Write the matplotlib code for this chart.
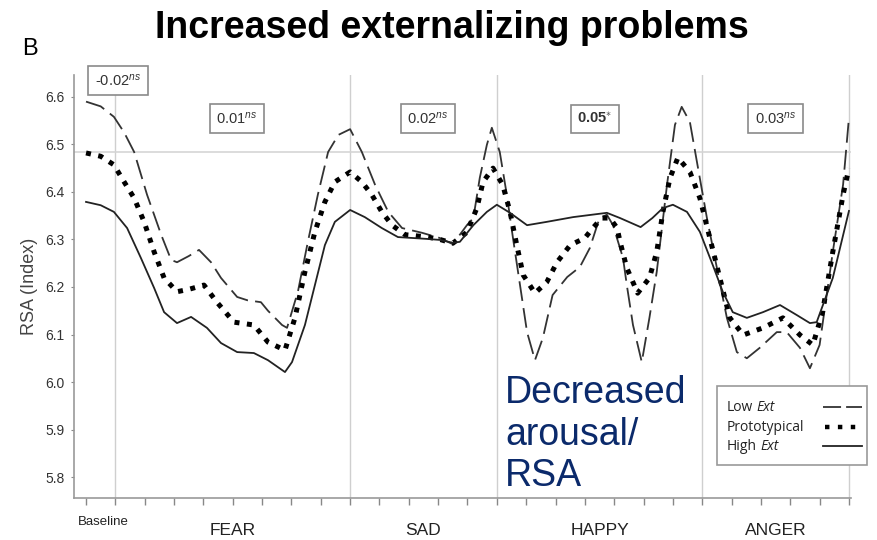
import matplotlib
matplotlib.use('Agg')
import matplotlib.pyplot as plt
from matplotlib.lines import Line2D
from matplotlib.patches import Rectangle

plt.rcParams['font.family'] = ['Liberation Sans', 'DejaVu Sans']
plt.rcParams['mathtext.fontset'] = 'custom'
plt.rcParams['mathtext.rm'] = 'Liberation Sans'
plt.rcParams['mathtext.it'] = 'Liberation Sans:italic'
plt.rcParams['mathtext.bf'] = 'Liberation Sans:bold'

# Low Ext (dashed) - time index vs RSA
low_x = [0, 0.5, 0.95, 1.3, 1.64, 2.08, 2.56, 2.9, 3.1, 3.5, 3.85, 4.26, 4.6, 5.15, 5.5, 5.96,
         6.2, 6.68, 6.85, 7.22, 7.56, 7.9, 8.25, 8.6, 9.0, 9.4, 9.85, 10.3, 10.77, 11.45, 12.06,
         12.5, 12.98, 13.2, 13.42, 13.66, 13.83, 14.1, 14.34, 14.55, 14.79, 15.03, 15.3, 15.57,
         15.9, 16.4, 16.83, 17.17, 17.5, 17.75, 17.96, 18.3, 18.43, 18.64, 18.94, 19.2, 19.45,
         19.8, 20.07, 20.3, 20.58, 20.82, 21.16, 21.5, 21.84, 22.18, 22.52, 22.96, 23.54, 23.88,
         24.33, 24.67, 25.0, 25.45, 25.8, 26.0]
low_y = [6.59, 6.58, 6.558, 6.525, 6.484, 6.394, 6.31, 6.257, 6.252, 6.265, 6.278, 6.252, 6.219,
         6.179, 6.172, 6.168, 6.15, 6.12, 6.114, 6.19, 6.295, 6.394, 6.484, 6.52, 6.532, 6.484,
         6.415, 6.358, 6.324, 6.314, 6.303, 6.29, 6.33, 6.345, 6.43, 6.499, 6.535, 6.484, 6.394,
         6.303, 6.204, 6.105, 6.046, 6.093, 6.183, 6.221, 6.242, 6.282, 6.345, 6.352, 6.33,
         6.261, 6.204, 6.12, 6.042, 6.135, 6.232, 6.415, 6.541, 6.579, 6.547, 6.463, 6.345,
         6.24, 6.135, 6.063, 6.05, 6.072, 6.105, 6.105, 6.072, 6.029, 6.078, 6.274, 6.415, 6.556]

# Prototypical (dotted)
proto_x = [0, 0.5, 0.95, 1.3, 1.64, 1.98, 2.32, 2.66, 3.1, 3.5, 4.02, 4.46, 5.04, 5.72, 6.2, 6.78,
           7.12, 7.46, 7.8, 8.14, 8.48, 9.0, 9.4, 9.74, 10.08, 10.43, 10.87, 11.65, 12.06, 12.5,
           12.98, 13.32, 13.53, 13.87, 14.2, 14.45, 14.68, 14.9, 15.3, 15.7, 16.05, 16.5, 17.0,
           17.27, 17.58, 17.85, 18.1, 18.2, 18.43, 18.8, 19.2, 19.45, 19.66, 19.9, 20.17, 20.58,
           20.92, 21.26, 21.6, 21.94, 22.4, 23.07, 23.75, 24.33, 24.77, 25.1, 25.45, 25.8, 26.0]
proto_y = [6.482, 6.475, 6.457, 6.421, 6.387, 6.337, 6.274, 6.219, 6.19, 6.195, 6.204, 6.168,
           6.126, 6.12, 6.084, 6.067, 6.135, 6.232, 6.316, 6.379, 6.421, 6.442, 6.421, 6.394,
           6.358, 6.33, 6.31, 6.305, 6.3, 6.292, 6.315, 6.366, 6.421, 6.45, 6.415, 6.358, 6.288,
           6.225, 6.187, 6.21, 6.252, 6.288, 6.303, 6.324, 6.345, 6.345, 6.324, 6.295, 6.24,
           6.187, 6.219, 6.274, 6.358, 6.429, 6.472, 6.442, 6.387, 6.303, 6.219, 6.135, 6.099,
           6.114, 6.135, 6.099, 6.078, 6.147, 6.274, 6.394, 6.45]

# High Ext (solid)
high_x = [0, 0.5, 0.95, 1.4, 1.87, 2.32, 2.66, 3.1, 3.58, 4.12, 4.6, 5.15, 5.72, 6.2, 6.78, 7.02,
          7.46, 7.8, 8.14, 8.48, 9.0, 9.5, 10.08, 10.63, 11.65, 12.06, 12.5, 12.74, 13.2, 13.66,
          14.0, 14.45, 15.03, 15.7, 16.6, 17.75, 18.2, 18.9, 19.3, 19.66, 20.0, 20.48, 20.92,
          21.36, 21.7, 22.04, 22.52, 23.07, 23.65, 24.22, 24.67, 24.9, 25.45, 26.0]
high_y = [6.379, 6.372, 6.358, 6.324, 6.261, 6.198, 6.147, 6.124, 6.137, 6.114, 6.082, 6.063,
          6.061, 6.046, 6.021, 6.042, 6.12, 6.204, 6.288, 6.337, 6.362, 6.347, 6.324, 6.305,
          6.301, 6.299, 6.293, 6.295, 6.33, 6.358, 6.373, 6.356, 6.33, 6.337, 6.347, 6.356,
          6.345, 6.326, 6.345, 6.366, 6.373, 6.358, 6.316, 6.246, 6.19, 6.147, 6.135, 6.147,
          6.162, 6.141, 6.124, 6.126, 6.219, 6.36]

segment_edges = [1, 9, 14, 21, 26]
segment_names = ['FEAR', 'SAD', 'HAPPY', 'ANGER']
segment_centers = [5, 11.5, 17.5, 23.5]
effects = [r'-0.02$^{\mathit{ns}}$', r'0.01$^{\mathit{ns}}$', r'0.02$^{\mathit{ns}}$',
           r'$\mathbf{0.05}^{\ast}$', r'0.03$^{\mathit{ns}}$']
effect_x = [1.09, 5.14, 11.65, 17.34, 23.5]
effect_y = [6.634, 6.554, 6.554, 6.554, 6.554]
ref_level = 6.485

W, H = 878, 540
fig = plt.figure(figsize=(W / 100, H / 100), dpi=100)
ax = fig.add_axes([74 / W, 42 / H, 777 / W, 423 / H])

# reference lines
for xe in segment_edges:
    ax.axvline(xe, color='#cfcfcf', lw=1, zorder=0)
ax.plot([-0.41, 26.07], [ref_level, ref_level], color='#d5d5d5', lw=1.2, zorder=0)

low_style = dict(color='#333333', lw=1.3, linestyle=(0, (11, 4)))
proto_style = dict(color='black', lw=3.6, linestyle=(0, (1, 1.5)))
high_style = dict(color='#222222', lw=1.3)

ax.plot(low_x, low_y, **low_style)
ax.plot(proto_x, proto_y, **proto_style)
ax.plot(high_x, high_y, **high_style)

ax.set_xlim(-0.41, 26.07)
ax.set_ylim(5.756, 6.646)
ax.set_xticks(range(0, 27))
ax.set_xticklabels([])
ax.set_yticks([5.8, 5.9, 6.0, 6.1, 6.2, 6.3, 6.4, 6.5, 6.6])
ax.set_yticklabels(['5.8', '5.9', '6.0', '6.1', '6.2', '6.3', '6.4', '6.5', '6.6'])
ax.tick_params(axis='x', length=5, color='#888888', width=1)
ax.tick_params(axis='y', length=2, color='#888888', labelsize=10, labelcolor='#333333', pad=5)
for side in ['top', 'right']:
    ax.spines[side].set_visible(False)
for side in ['left', 'bottom']:
    ax.spines[side].set_color('#999999')
    ax.spines[side].set_linewidth(1.2)

ax.set_ylabel('RSA (Index)', fontsize=13, color='#444444', labelpad=5)

# category labels under the axis
ax.text(0.58, 5.705, 'Baseline', fontsize=9.5, color='#222222', ha='center', va='center')
for xc, name in zip(segment_centers, segment_names):
    ax.text(xc, 5.678, name, fontsize=12.5, color='#222222', ha='center', va='baseline')

# effect boxes
for xe, ye, lab in zip(effect_x, effect_y, effects):
    ax.text(xe, ye, lab, fontsize=10.5, color='#333333', ha='center', va='center',
            bbox=dict(boxstyle='square,pad=0.45', fc='white', ec='#8a8a8a', lw=1.2))

# legend drawn by hand (labels left, samples right)
fig.add_artist(Rectangle((717 / W, 1 - 465 / H), 150 / W, 79 / H, transform=fig.transFigure,
                         fc='white', ec='#999999', lw=1.2))
renderer = fig.canvas.get_renderer()
rows = [('Low', 'Ext', 411, low_style, (0, (10, 2.8)), 823, 862),
        ('Prototypical', '', 431, proto_style, (0, (1, 1.9)), 825, 856),
        ('High', 'Ext', 450, high_style, None, 823, 862)]
for plain, ital, yb, style, dash, x0, x1 in rows:
    t = fig.text(727 / W, 1 - yb / H, plain, fontsize=10, family='Open Sans',
                 color='#222222', va='baseline')
    if ital:
        bb = t.get_window_extent(renderer=renderer)
        fig.text((bb.x1 + 3.5) / W, 1 - yb / H, ital, fontsize=10, family='Open Sans',
                 style='italic', color='#222222', va='baseline')
    ys = 1 - (yb - 4) / H
    s = dict(style)
    if dash is not None:
        s['linestyle'] = dash
    if s['lw'] > 3:
        s['lw'] = 3.2
    fig.add_artist(Line2D([x0 / W, x1 / W], [ys, ys], transform=fig.transFigure, **s))

fig.text(452 / W, 1 - 28 / H, 'Increased externalizing problems', fontsize=27,
         fontweight='bold', ha='center', va='center', color='black')
fig.text(30 / W, 1 - 49 / H, 'B', fontsize=17, ha='center', va='center', color='black')
fig.text(505 / W, 1 - 375 / H, 'Decreased\narousal/\nRSA', fontsize=27,
         color='#0b2a6b', ha='left', va='top', linespacing=1.2)

fig.savefig('out.png', dpi=100)
